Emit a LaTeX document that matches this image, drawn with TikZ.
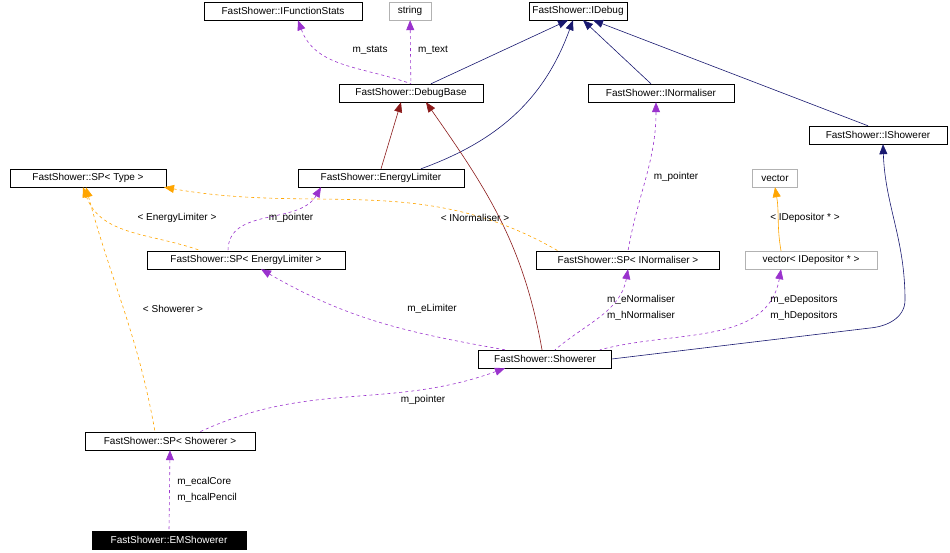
\documentclass[tikz,border=0pt]{standalone}
\usepackage{fontspec}
\setmainfont{Liberation Sans}
\usetikzlibrary{arrows.meta}
\definecolor{nav}{HTML}{191970}
\definecolor{dred}{HTML}{8B1A1A}
\definecolor{purp}{HTML}{9A32CD}
\definecolor{orng}{HTML}{FFA500}
\tikzset{
 bx/.style={draw=black,fill=white,inner sep=0pt,minimum height=18pt,font=\fontsize{10}{11}\selectfont},
 gbx/.style={bx,draw=gray!60},
 lb/.style={font=\fontsize{10}{16}\selectfont,inner sep=1pt},
 nv/.style={draw=nav,{Triangle[length=10pt,width=8pt]}-,line width=0.6pt},
 dr/.style={draw=dred,{Triangle[length=10pt,width=8pt]}-,line width=0.6pt},
 pu/.style={draw=purp,dashed,{Triangle[length=10pt,width=8pt]}-,line width=0.6pt},
 orl/.style={draw=orng,dashed,{Triangle[length=10pt,width=8pt]}-,line width=0.6pt},
 ors/.style={draw=orng,{Triangle[length=10pt,width=8pt]}-,line width=0.6pt},
}
\begin{document}
\begin{tikzpicture}[x=1pt,y=-1pt]
\useasboundingbox (0,0) rectangle (950,552);
\node[bx,minimum width=158pt] (ifs) at (283,11) {FastShower::IFunctionStats};
\node[gbx,minimum width=42pt] (str) at (410,11) {string};
\node[bx,minimum width=98pt] (idb) at (578,11) {FastShower::IDebug};
\node[bx,minimum width=144pt] (dbb) at (411,93) {FastShower::DebugBase};
\node[bx,minimum width=146pt] (inr) at (661,93) {FastShower::INormaliser};
\node[bx,minimum width=138pt] (ish) at (878,135) {FastShower::IShowerer};
\node[bx,minimum width=156pt] (spt) at (88,178) {FastShower::SP< Type >};
\node[bx,minimum width=166pt] (enl) at (381,178) {FastShower::EnergyLimiter};
\node[gbx,minimum width=45pt] (vec) at (775,178) {vector};
\node[bx,minimum width=198pt] (spe) at (246,260) {FastShower::SP< EnergyLimiter >};
\node[bx,minimum width=183pt] (spn) at (628,260) {FastShower::SP< INormaliser >};
\node[gbx,minimum width=132pt] (vid) at (811,260) {vector< IDepositor * >};
\node[bx,minimum width=133pt] (sho) at (545,359) {FastShower::Showerer};
\node[bx,minimum width=170pt] (sps) at (170,441) {FastShower::SP< Showerer >};
\node[bx,fill=black,text=white,minimum width=154pt] (ems) at (169,540) {FastShower::EMShowerer};

\draw[pu] (ifs.south) ++(15,0) to[out=-70,in=160] (dbb.north);
\node[lb] at (370,50) {m\_stats};
\draw[pu] (str) -- (dbb);
\node[lb] at (433,50) {m\_text};
\draw[nv] (idb.south) ++(-10,0) -- ([xshift=20pt]dbb.north);
\draw[nv] (idb.south) ++(-5,0) to[out=-110,in=20] ([xshift=40pt]enl.north);
\draw[nv] (idb.south) ++(5,0) -- ([xshift=-10pt]inr.north);
\draw[nv] (idb.south) ++(15,0) -- ([xshift=-10pt]ish.north);
\draw[dr] ([xshift=-10pt]dbb.south) -- (enl.north);
\draw[dr] ([xshift=15pt]dbb.south) to[out=-55,in=100] ([xshift=-3pt]sho.north);
\draw[pu] ([xshift=-60pt]enl.south) to[out=-120,in=90] ([xshift=-18pt]spe.north);
\node[lb] at (291,218) {m\_pointer};
\draw[orl] ([xshift=-5pt]spt.south) to[out=-70,in=160] ([xshift=-45pt]spe.north);
\node[lb] at (177,218) {< EnergyLimiter >};
\draw[orl] ([xshift=76pt]spt.south) to[out=-10,in=150] ([xshift=-70pt]spn.north);
\node[lb] at (475,218) {< INormaliser >};
\draw[pu] ([xshift=-5pt]inr.south) to[out=-90,in=80] (spn.north);
\node[lb] at (676,177) {m\_pointer};
\draw[ors] (vec.south) to[out=-80,in=100] ([xshift=-30pt]vid.north);
\node[lb] at (805,218) {< IDepositor * >};
\draw[pu] ([xshift=15pt]spe.south) to[out=-30,in=170] ([xshift=-40pt]sho.north);
\node[lb] at (432,309) {m\_eLimiter};
\draw[pu] ([xshift=0pt]spn.south) to[out=-100,in=40] ([xshift=10pt]sho.north);
\node[lb,align=left] at (641,308) {m\_eNormaliser\\m\_hNormaliser};
\draw[pu] ([xshift=-30pt]vid.south) to[out=-100,in=15] ([xshift=55pt]sho.north);
\node[lb,align=left] at (804,308) {m\_eDepositors\\m\_hDepositors};
\draw[nv] (ish.south) ++(5,0) to[out=-88,in=90] (905,300) to[out=-90,in=5] (870,328) -- (sho.east);
\draw[orl] ([xshift=-2pt]spt.south) to[out=-75,in=100] ([xshift=-15pt]sps.north);
\node[lb] at (173,309) {< Showerer >};
\draw[pu] ([xshift=-40pt]sho.south) to[out=-160,in=25] ([xshift=30pt]sps.north);
\node[lb] at (423,400) {m\_pointer};
\draw[pu] (sps.south) -- (ems.north);
\node[lb,align=left] at (207,490) {m\_ecalCore\\m\_hcalPencil};
\end{tikzpicture}
\end{document}
